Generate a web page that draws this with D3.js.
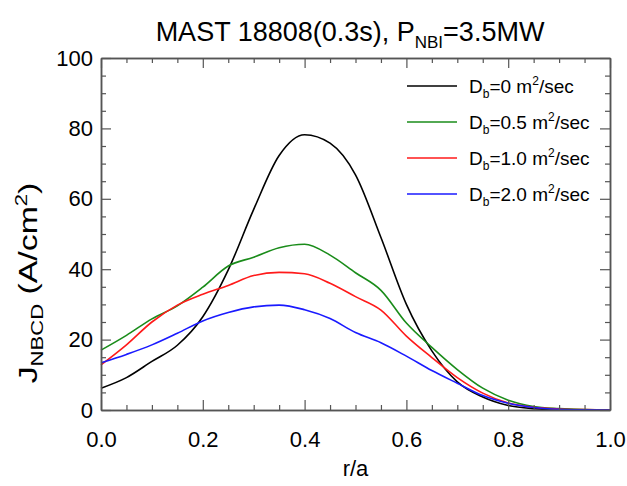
<!DOCTYPE html>
<html>
<head>
<meta charset="utf-8">
<script src="https://cdn.jsdelivr.net/npm/d3@7"></script>
<style>
  html, body { margin: 0; padding: 0; background: #fff; }
  svg { display: block; font-family: "Liberation Sans", Arial, Helvetica, sans-serif; }
</style>
</head>
<body>
<div id="chart"></div>
<script>
// r/a grid shared by all four profiles
const rValues = [0, 0.05, 0.1, 0.15, 0.2, 0.25, 0.3, 0.35, 0.4, 0.45, 0.5,
  0.55, 0.6, 0.65, 0.7, 0.75, 0.8, 0.85, 0.9, 0.95, 1.0];

// J_NBCD (A/cm^2)
const jDb0 = [6.2, 9.2, 13.8, 18.4, 26.5, 39.8, 57.0, 72.3, 78.2, 75.8, 66.8,
  49.0, 30.0, 16.8, 8.0, 3.7, 1.3, 0.4, 0.1, 0, 0];
const jDb05 = [17.0, 21.2, 25.9, 29.6, 34.9, 40.9, 43.4, 46.1, 47.1, 44.0, 39.0,
  34.0, 24.7, 17.8, 11.5, 6.2, 2.8, 1.0, 0.4, 0.1, 0];
const jDb10 = [12.8, 18.5, 25.0, 29.8, 32.9, 35.4, 38.2, 39.1, 38.7, 36.0, 32.2,
  28.4, 21.0, 14.9, 9.2, 4.8, 2.0, 0.8, 0.3, 0.1, 0];
const jDb20 = [13.4, 15.8, 18.5, 21.8, 25.3, 27.7, 29.3, 29.8, 28.5, 26.0, 22.0,
  19.1, 15.3, 11.2, 7.6, 4.1, 1.9, 0.7, 0.2, 0.05, 0];

const seriesNames = ["0", "0.5", "1.0", "2.0"];
const seriesColors = ["#000000", "#1a8c1a", "#ff1a1a", "#1a1aff"];
const seriesValues = [jDb0, jDb05, jDb10, jDb20];

const xTicks = [0, 0.2, 0.4, 0.6, 0.8, 1.0];
const yTicks = [0, 20, 40, 60, 80, 100];

const W = 627, H = 486;
const margin = { top: 58, right: 17, bottom: 76, left: 101 };
const width = W - margin.left - margin.right;
const height = H - margin.top - margin.bottom;
const axisColor = "#555";

const svg = d3.select("#chart").append("svg")
  .attr("width", W).attr("height", H);

const g = svg.append("g")
  .attr("transform", `translate(${margin.left},${margin.top})`);

const x = d3.scaleLinear().domain([0, 1]).range([0, width]);
const y = d3.scaleLinear().domain([0, 100]).range([height, 0]);

// curves
const line = d3.line()
  .x(d => x(d[0]))
  .y(d => y(d[1]))
  .curve(d3.curveMonotoneX);

seriesValues.forEach((vals, i) => {
  g.append("path")
    .datum(rValues.map((r, k) => [r, vals[k]]))
    .attr("fill", "none")
    .attr("stroke", seriesColors[i])
    .attr("stroke-width", 1.6)
    .attr("d", line);
});

// axes: ticks on all four sides, labels on bottom/left only
function styleAxis(sel) {
  sel.select(".domain").attr("stroke", axisColor).attr("stroke-width", 1.5);
  sel.selectAll(".tick line").attr("stroke", axisColor).attr("stroke-width", 1.2);
  sel.selectAll("text").attr("fill", "#000").attr("font-size", 22);
}

const xMinor = d3.range(0, 1.0001, 0.05).filter(v => Math.abs(v * 5 - Math.round(v * 5)) > 1e-6);
const yMinor = d3.range(0, 101, 5).filter(v => v % 20 !== 0);

// bottom
g.append("g").attr("transform", `translate(0,${height})`)
  .call(d3.axisBottom(x).tickValues(xMinor).tickSize(-5).tickFormat("").tickSizeOuter(0))
  .call(styleAxis);
g.append("g").attr("transform", `translate(0,${height})`)
  .call(d3.axisBottom(x).tickValues(xTicks).tickSize(-10).tickSizeOuter(0)
    .tickFormat(d3.format(".1f")).tickPadding(21))
  .call(styleAxis);
// top
g.append("g")
  .call(d3.axisTop(x).tickValues(xMinor).tickSize(-5).tickFormat("").tickSizeOuter(0))
  .call(styleAxis);
g.append("g")
  .call(d3.axisTop(x).tickValues(xTicks).tickSize(-10).tickFormat("").tickSizeOuter(0))
  .call(styleAxis);
// left
g.append("g")
  .call(d3.axisLeft(y).tickValues(yMinor).tickSize(-5).tickFormat("").tickSizeOuter(0))
  .call(styleAxis);
g.append("g")
  .call(d3.axisLeft(y).tickValues(yTicks).tickSize(-10).tickSizeOuter(0)
    .tickFormat(d3.format("d")).tickPadding(8))
  .call(styleAxis);
// right
g.append("g").attr("transform", `translate(${width},0)`)
  .call(d3.axisRight(y).tickValues(yMinor).tickSize(-5).tickFormat("").tickSizeOuter(0))
  .call(styleAxis);
g.append("g").attr("transform", `translate(${width},0)`)
  .call(d3.axisRight(y).tickValues(yTicks).tickSize(-10).tickFormat("").tickSizeOuter(0))
  .call(styleAxis);

// title
const title = svg.append("text")
  .attr("x", 350).attr("y", 41)
  .attr("text-anchor", "middle")
  .attr("font-size", 27);
title.append("tspan").text("MAST 18808(0.3s), P");
title.append("tspan").attr("font-size", 17).attr("dy", 7).text("NBI");
title.append("tspan").attr("dy", -7).text("=3.5MW");

// x axis title
svg.append("text")
  .attr("x", margin.left + width / 2).attr("y", 476)
  .attr("text-anchor", "middle")
  .attr("font-size", 22)
  .text("r/a");

// y axis title, stretched along its length like the IDL output
const yt = svg.append("text")
  .attr("transform", "translate(37,283) rotate(-90) scale(1.3,1)")
  .attr("text-anchor", "middle")
  .attr("font-size", 26);
yt.append("tspan").text("J");
yt.append("tspan").attr("font-size", 17).attr("dy", 6).text("NBCD");
yt.append("tspan").attr("dy", -6).text(" (A/cm");
yt.append("tspan").attr("font-size", 17).attr("dy", -10).text("2");
yt.append("tspan").attr("dy", 10).text(")");

// legend
const legend = svg.append("g");
seriesNames.forEach((name, i) => {
  const ly = 86 + i * 36;
  legend.append("line")
    .attr("x1", 407).attr("x2", 457)
    .attr("y1", ly).attr("y2", ly)
    .attr("stroke", seriesColors[i])
    .attr("stroke-width", 1.6);
  const t = legend.append("text")
    .attr("x", 469).attr("y", ly + 7)
    .attr("font-size", 19);
  t.append("tspan").text("D");
  t.append("tspan").attr("font-size", 12).attr("dy", 5).text("b");
  t.append("tspan").attr("dy", -5).text(`=${name} m`);
  t.append("tspan").attr("font-size", 12).attr("dy", -8).text("2");
  t.append("tspan").attr("dy", 8).text("/sec");
});
</script>
</body>
</html>
